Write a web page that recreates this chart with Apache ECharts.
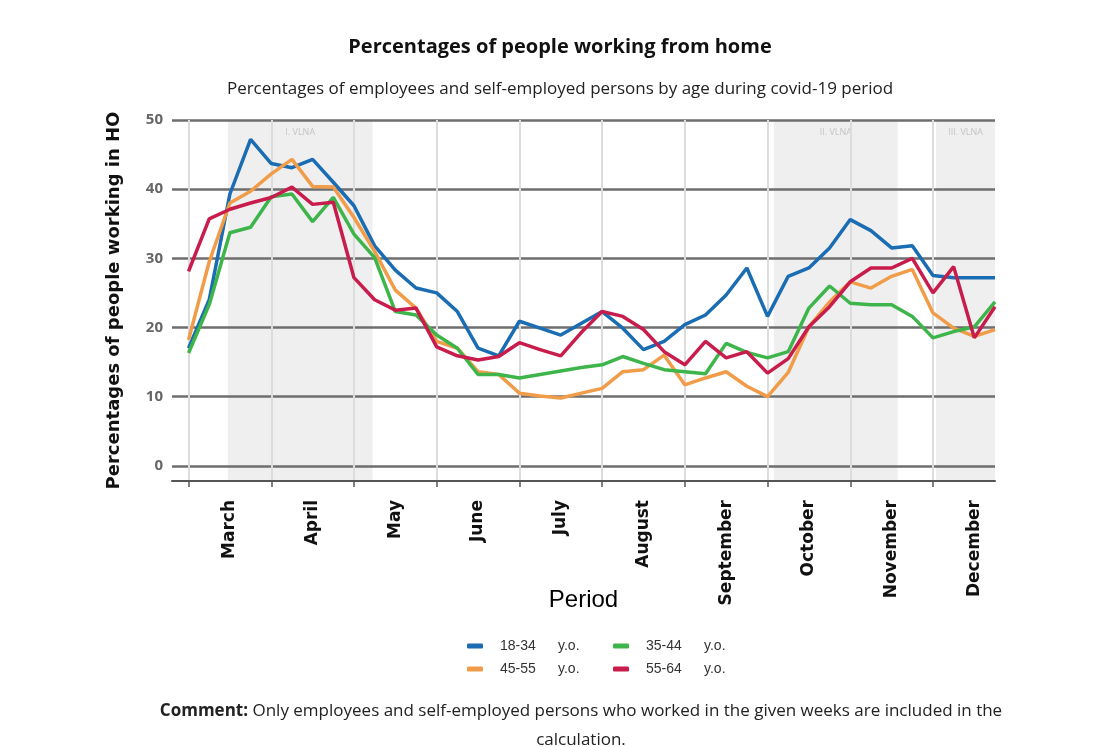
<!DOCTYPE html>
<html>
<head>
<meta charset="utf-8">
<script src="https://cdn.jsdelivr.net/npm/echarts@6/dist/echarts.min.js"></script>
<style>
  html, body { margin: 0; padding: 0; background: #fff; }
  #main { width: 1109px; height: 747px; }
</style>
</head>
<body>
<div id="main"></div>
<script>
// weekly values, week index 0 = first week of March
const months = ['March', 'April', 'May', 'June', 'July', 'August', 'September', 'October', 'November', 'December'];
const monthTicks = [0, 4, 8, 12, 16, 20, 24, 28, 32, 36];
const monthLabelPos = [2, 6, 10, 14, 18, 22, 26, 30, 34, 38];
const yTicks = [0, 10, 20, 30, 40, 50];

const age1834 = [17, 24, 39.3, 47.2, 43.7, 43.1, 44.3, 41.0, 37.6, 31.8, 28.3, 25.7, 25.0, 22.3, 17.0, 15.9, 20.9, 19.9, 18.9, 20.6,
  22.3, 19.9, 16.8, 18.0, 20.4, 21.8, 24.7, 28.6, 21.6, 27.4, 28.6, 31.5, 35.6, 34.0, 31.5, 31.8, 27.5, 27.2, 27.2, 27.2];
const age4555 = [18.2, 29.5, 38.0, 39.7, 42.2, 44.3, 40.4, 40.3, 35.9, 31.0, 25.4, 22.8, 18.0, 17.0, 13.6, 13.2, 10.5, 10.1, 9.8, 10.5,
  11.2, 13.6, 13.9, 16.0, 11.7, 12.7, 13.6, 11.5, 10.0, 13.5, 20.1, 23.7, 26.6, 25.7, 27.4, 28.4, 22.1, 19.9, 18.7, 19.7];
const age3544 = [16.3, 23.3, 33.7, 34.5, 38.9, 39.3, 35.3, 38.8, 33.5, 30.1, 22.3, 21.8, 18.9, 17.0, 13.2, 13.2, 12.7, 13.2, 13.7, 14.2,
  14.6, 15.8, 14.8, 13.9, 13.6, 13.3, 17.7, 16.4, 15.6, 16.5, 22.8, 26.0, 23.5, 23.3, 23.3, 21.6, 18.5, 19.4, 20.1, 23.7];
const age5564 = [28.1, 35.7, 37.1, 38.0, 38.8, 40.3, 37.8, 38.1, 27.2, 24.0, 22.5, 22.8, 17.2, 15.9, 15.3, 15.8, 17.8, 16.8, 15.9, 19.3,
  22.3, 21.6, 19.7, 16.5, 14.6, 18.0, 15.6, 16.5, 13.4, 15.5, 20.1, 23.0, 26.6, 28.6, 28.6, 30.0, 25.0, 28.8, 18.5, 23.0];

// covid waves (in week index)
const waves = [
  { name: 'I. VLNA', from: 1.9, to: 8.9 },
  { name: 'II. VLNA', from: 28.3, to: 34.3 },
  { name: 'III. VLNA', from: 36.15, to: 39 }
];

function toPoints(arr) {
  return arr.map(function (v, i) { return [i, v]; });
}

const chart = echarts.init(document.getElementById('main'));

function lineSeries(name, data, color) {
  return {
    name: name,
    type: 'line',
    z: 10,
    data: toPoints(data),
    symbol: 'none',
    lineStyle: { color: color, width: 3.5 },
    itemStyle: { color: color }
  };
}

const legendRich = {
  n: { width: 58, height: 20, fontSize: 14, color: '#333', fontFamily: 'Liberation Sans', lineHeight: 20 },
  u: { width: 52, height: 20, fontSize: 14, color: '#333', fontFamily: 'Liberation Sans', lineHeight: 20 }
};

const option = {
  backgroundColor: '#fff',
  animation: false,
  grid: { left: 172, right: 114, top: 120, bottom: 266 },
  legend: {
    data: ['18-34', '35-44', '45-55', '55-64'],
    left: 462,
    top: 631,
    width: 300,
    itemWidth: 16,
    itemHeight: 5,
    itemGap: 3,
    icon: 'roundRect',
    formatter: function (name) { return '{n|' + name + '}{u|y.o.}'; },
    textStyle: { rich: legendRich, lineHeight: 20, padding: [0, 0, 0, 12] }
  },
  graphic: [
    { type: 'text', x: 560, y: 47, style: { text: 'Percentages of people working from home', textAlign: 'center', textVerticalAlign: 'middle', font: 'bold 20px "Open Sans"', fill: '#111' } },
    { type: 'text', x: 560, y: 89, style: { text: 'Percentages of employees and self-employed persons by age during covid-19 period', textAlign: 'center', textVerticalAlign: 'middle', font: '17px "Open Sans"', fill: '#222' } },
    { type: 'text', x: 581, y: 711, style: {
      text: '{b|Comment:} Only employees and self-employed persons who worked in the given weeks are included in the',
      textAlign: 'center', textVerticalAlign: 'middle', font: '17px "Open Sans"', fill: '#222',
      rich: { b: { fontWeight: 'bold', fontSize: 17, fontFamily: 'Open Sans', fill: '#222' } } } },
    { type: 'text', x: 581, y: 740, style: { text: 'calculation.', textAlign: 'center', textVerticalAlign: 'middle', font: '17px "Open Sans"', fill: '#222' } }
  ],
  xAxis: {
    type: 'value',
    min: -0.8,
    max: 39,
    z: 3,
    name: 'Period',
    nameLocation: 'middle',
    nameGap: 107,
    nameMoveOverlap: false,
    nameTextStyle: { fontFamily: 'Liberation Sans', fontSize: 24, color: '#000' },
    axisLine: { show: true, onZero: false, lineStyle: { color: '#555', width: 2 } },
    axisTick: { show: true, length: 6, customValues: monthTicks, lineStyle: { color: '#555', width: 1.5 } },
    splitLine: { show: true, lineStyle: { color: '#dcdcdc', width: 2 } },
    axisLabel: {
      customValues: monthLabelPos,
      rotate: 90,
      margin: 19,
      fontFamily: 'DejaVu Sans',
      fontWeight: 'bold',
      fontSize: 17,
      color: '#111',
      formatter: function (v) { return months[Math.round((v - 2) / 4)] || ''; }
    }
  },
  yAxis: {
    type: 'value',
    min: -2.2,
    max: 50,
    z: 3,
    name: 'Percentages of people working in HO',
    nameLocation: 'middle',
    nameGap: 49,
    nameTextStyle: { fontFamily: 'DejaVu Sans', fontWeight: 'bold', fontSize: 18, color: '#111' },
    axisLine: { show: false },
    axisTick: { show: false, customValues: yTicks },
    splitLine: { show: true, lineStyle: { color: '#6e6e6e', width: 2.5 } },
    axisLabel: {
      customValues: yTicks,
      margin: 9,
      fontFamily: 'Open Sans',
      fontWeight: 'bold',
      fontSize: 15,
      color: '#666'
    }
  },
  series: [
    {
      // holder for the shaded covid waves, drawn under the grid lines
      name: 'waves',
      type: 'line',
      z: 1,
      data: [],
      markArea: {
        silent: true,
        itemStyle: { color: '#efefef' },
        label: { position: 'insideTop', color: '#c4c4c4', fontSize: 9, fontFamily: 'Open Sans', distance: 8 },
        data: waves.map(function (w) {
          return [{ name: w.name, xAxis: w.from }, { xAxis: w.to }];
        })
      }
    },
    lineSeries('18-34', age1834, '#1a6cb3'),
    lineSeries('45-55', age4555, '#f19c48'),
    lineSeries('35-44', age3544, '#3db54a'),
    lineSeries('55-64', age5564, '#c81d4c')
  ]
};

chart.setOption(option);
</script>
</body>
</html>
